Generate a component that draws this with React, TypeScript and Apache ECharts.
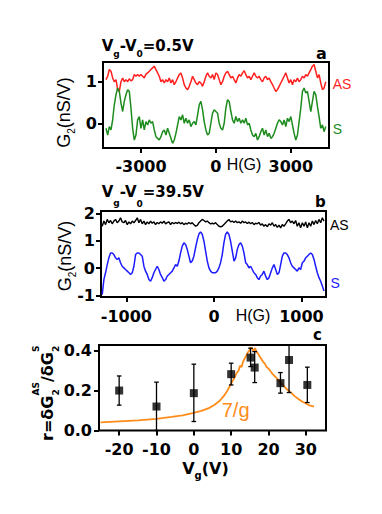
import React, { useEffect, useRef } from 'react';
import * as echarts from 'echarts';

// ---------- Panel a: Vg-V0 = 0.5 V ----------
const fieldA = [-4400,-4333,-4267,-4200,-4133,-4067,-4000,-3933,-3867,-3800,-3733,-3667,-3600,-3533,-3467,-3400,-3333,-3267,-3200,-3133,-3067,-3000,-2933,-2867,-2800,-2733,-2667,-2600,-2533,-2467,-2400,-2333,-2267,-2200,-2133,-2067,-2000,-1933,-1867,-1800,-1733,-1667,-1600,-1533,-1467,-1400,-1333,-1267,-1200,-1133,-1067,-1000,-933,-867,-800,-733,-667,-600,-533,-467,-400,-333,-267,-200,-133,-67,0,67,133,200,267,333,400,467,533,600,667,733,800,867,933,1000,1067,1133,1200,1267,1333,1400,1467,1533,1600,1667,1733,1800,1867,1933,2000,2067,2133,2200,2267,2333,2400,2467,2533,2600,2667,2733,2800,2867,2933,3000,3067,3133,3200,3267,3333,3400,3467,3533,3600,3667,3733,3800,3867,3933,4000,4067,4133,4200,4267,4333,4400];
const asA = [1.05,1.13,1.29,1.25,1.09,1.0,1.05,0.81,0.77,1.0,
  1.09,1.0,1.05,1.0,1.07,1.02,1.05,1.17,1.13,1.17,
  1.13,1.17,1.13,1.09,1.18,1.21,1.25,1.29,1.33,1.37,
  1.29,1.21,1.13,1.0,1.05,0.97,1.05,1.0,1.09,0.97,
  1.05,0.93,1.0,1.09,1.17,1.21,1.09,0.93,0.85,0.81,
  0.89,1.0,1.13,1.05,0.97,0.93,1.0,0.97,0.89,1.0,
  1.13,1.21,1.13,1.09,1.17,1.05,1.21,1.17,1.05,0.93,
  1.0,1.13,1.21,1.25,1.17,1.09,1.13,1.05,0.97,1.09,
  1.17,1.13,1.21,1.26,1.17,1.09,1.13,1.05,1.13,1.21,
  1.13,1.09,1.13,1.05,1.0,1.09,1.13,1.05,1.09,1.0,
  0.93,0.85,0.77,0.81,0.89,0.97,1.05,1.13,1.21,1.09,
  0.97,1.05,0.93,1.05,1.0,1.09,1.0,1.05,1.13,1.09,
  1.17,1.13,1.21,1.29,1.37,1.41,1.25,1.09,1.17,0.97,
  0.81,0.85,1.0];
const sA = [-0.11,-0.27,-0.07,-0.15,0.09,0.45,0.69,0.85,0.77,0.49,
  0.29,0.53,0.69,0.81,0.77,0.37,-0.11,-0.39,-0.27,0.09,
  0.17,-0.11,0.09,-0.15,0.05,-0.03,0.09,0.01,0.05,-0.15,
  -0.31,-0.35,-0.39,-0.31,-0.19,-0.15,-0.27,-0.11,-0.23,-0.35,
  -0.47,-0.39,-0.23,-0.03,0.17,0.09,0.21,0.01,0.13,0.01,
  0.09,-0.07,0.01,0.05,-0.03,0.21,0.45,0.53,0.33,0.05,
  -0.15,-0.27,-0.23,0.01,0.25,0.33,0.29,0.25,0.01,-0.11,
  -0.15,0.01,0.37,0.57,0.53,0.29,0.09,0.01,0.17,0.05,
  0.13,0.01,0.09,0.01,0.13,-0.03,0.01,-0.15,-0.27,-0.31,
  -0.23,-0.39,-0.31,-0.19,-0.11,-0.27,-0.15,-0.31,-0.23,-0.35,
  -0.31,-0.23,-0.11,0.01,0.09,0.05,-0.03,0.09,-0.07,0.13,
  0.05,0.17,-0.03,-0.23,-0.39,-0.27,0.05,0.37,0.77,0.85,
  0.73,0.77,0.53,0.29,0.53,0.77,0.69,0.41,0.17,-0.11,
  -0.03,-0.19,-0.07];

// ---------- Panel b: Vg-V0 = 39.5 V ----------
const fieldB = [-1276,-1257,-1238,-1219,-1200,-1181,-1162,-1143,-1124,-1105,-1086,-1067,-1048,-1029,-1010,-990,-971,-952,-933,-914,-895,-876,-857,-838,-819,-800,-781,-762,-743,-724,-705,-686,-667,-648,-629,-610,-590,-571,-552,-533,-514,-495,-476,-457,-438,-419,-400,-381,-362,-343,-324,-305,-286,-267,-248,-229,-210,-190,-171,-152,-133,-114,-95,-76,-57,-38,-19,0,19,38,57,76,95,114,133,152,171,190,210,229,248,267,286,305,324,343,362,381,400,419,438,457,476,495,514,533,552,571,590,610,629,648,667,686,705,724,743,762,781,800,819,838,857,876,895,914,933,952,971,990,1010,1029,1048,1067,1086,1105,1124,1143,1162,1181,1200,1219,1238,1257];
const asB = [1.54,1.73,1.60,1.79,1.67,1.75,1.63,1.73,1.79,1.67,
  1.73,1.85,1.70,1.67,1.75,1.60,1.70,1.63,1.73,1.67,
  1.75,1.85,1.67,1.79,1.63,1.73,1.60,1.70,1.63,1.73,
  1.65,1.70,1.60,1.68,1.63,1.70,1.65,1.73,1.63,1.67,
  1.70,1.60,1.68,1.63,1.68,1.64,1.69,1.63,1.67,1.60,
  1.65,1.62,1.68,1.63,1.67,1.60,1.54,1.57,1.67,1.73,
  1.79,1.75,1.70,1.73,1.67,1.63,1.65,1.63,1.67,1.60,
  1.54,1.52,1.54,1.60,1.67,1.73,1.79,1.70,1.73,1.68,
  1.73,1.67,1.70,1.65,1.73,1.67,1.70,1.64,1.69,1.63,
  1.68,1.60,1.65,1.63,1.68,1.58,1.63,1.54,1.60,1.52,
  1.63,1.58,1.67,1.54,1.60,1.50,1.58,1.48,1.60,1.54,
  1.63,1.73,1.79,1.67,1.73,1.63,1.75,1.54,1.67,1.48,
  1.67,1.54,1.70,1.48,1.67,1.54,1.73,1.60,1.75,1.63,
  1.79,1.67,1.85,1.73];
const sB = [-0.97,-0.42,-0.17,0.13,0.38,0.56,0.56,0.50,0.38,0.32,
  0.38,0.20,0.07,0.01,-0.05,-0.11,-0.17,-0.23,-0.17,0.07,
  0.50,0.56,0.56,0.50,0.44,0.07,-0.11,-0.23,-0.42,-0.48,
  -0.35,-0.17,-0.05,0.07,-0.05,-0.23,-0.35,-0.48,-0.42,-0.29,
  -0.23,-0.17,-0.11,0.01,0.13,0.07,0.26,0.56,0.81,0.93,
  0.87,0.69,0.44,0.20,0.26,0.44,0.75,1.05,1.26,1.33,
  1.24,0.99,0.62,0.26,0.01,-0.11,-0.17,-0.17,-0.17,-0.11,
  0.01,0.20,0.50,0.93,1.24,1.33,1.24,0.99,0.62,0.26,
  0.38,0.69,0.87,0.93,0.81,0.56,0.20,0.13,0.01,0.07,
  -0.05,-0.17,-0.23,-0.35,-0.42,-0.29,-0.23,-0.11,-0.29,-0.42,
  -0.35,-0.17,0.01,0.13,-0.05,-0.23,-0.17,0.13,0.44,0.56,
  0.56,0.50,0.38,0.20,0.07,0.01,-0.05,-0.11,0.01,-0.05,
  0.20,0.26,0.38,0.44,0.50,0.56,0.50,0.32,0.07,-0.17,
  -0.35,-0.48,-0.66,-0.84];

// ---------- Panel c: r vs Vg ----------
const vg = [-20, -10, 0, 10, 15.2, 16.3, 23.2, 25.5, 30.4];
const rVal = [0.20, 0.12, 0.187, 0.282, 0.365, 0.315, 0.237, 0.353, 0.228];
const rLow = [0.127, 0.0, 0.045, 0.228, 0.32, 0.24, 0.187, 0.19, 0.14];
const rHigh = [0.273, 0.242, 0.332, 0.337, 0.412, 0.395, 0.29, 0.427, 0.317];
const fitVg = [-25,-20,-15,-10,-6,-3,0,2,4,5.5,7,8,9,10,10.8,11.4,12,12.4,12.8,13.2,13.6,14,14.4,14.8,15.2,15.6,16,16.4,16.8,17.2,17.6,18,18.5,19,19.5,20,21,22,23,24,25,26,27,28,29,30,31,32.2];
const fitR = [0.041,0.046,0.051,0.058,0.068,0.076,0.088,0.098,0.112,0.128,0.15,0.172,0.2,0.235,0.262,0.285,0.3,0.325,0.318,0.345,0.36,0.372,0.39,0.398,0.415,0.41,0.398,0.412,0.395,0.385,0.372,0.36,0.345,0.335,0.318,0.31,0.285,0.266,0.245,0.225,0.205,0.19,0.172,0.158,0.145,0.135,0.126,0.12];

// ---------- Tick labels ----------
const xTicksA = [-3000, 0, 3000];
const yTicksA = [0, 1];
const xTicksB = [-1000, 0, 1000];
const yTicksB = [-1, 0, 1, 2];
const xTicksC = [-20, -10, 0, 10, 20, 30];
const yTicksC = [0, 0.2, 0.4];

const DV = "'DejaVu Sans'";
const LS = "'Liberation Sans'";
const CENTRAL = 0.346;

let measureCtx: CanvasRenderingContext2D | null = null;
function tw(text: string, size: number, weight: string, family: string): number {
  if (!measureCtx) measureCtx = document.createElement('canvas').getContext('2d');
  if (!measureCtx) return text.length * size * 0.6;
  measureCtx.font = `${weight} ${size}px ${family}`;
  return measureCtx.measureText(text).width;
}

function textEl(x: number, baseline: number, text: string, size: number, weight: string, family: string, fill: string, align = 'left') {
  return {
    type: 'text', x, y: baseline - CENTRAL * size, silent: true,
    style: { text, fontSize: size, fontWeight: weight, fontFamily: family, fill, align, verticalAlign: 'middle' },
  };
}

type Piece = { t: string; size: number; dy?: number; stack?: boolean };
function pieces(list: Piece[], weight: string, family: string, fill: string, anchor: 'left' | 'center') {
  let cursor = 0;
  let lastStart = 0;
  const placed: { x0: number; p: Piece }[] = [];
  for (const p of list) {
    const w = tw(p.t, p.size, weight, family);
    const x0 = p.stack ? lastStart : cursor;
    placed.push({ x0, p });
    if (!p.stack) lastStart = x0;
    cursor = Math.max(cursor, x0 + w);
  }
  const shift = anchor === 'center' ? -cursor / 2 : 0;
  return placed.map(({ x0, p }) => textEl(x0 + shift, p.dy || 0, p.t, p.size, weight, family, fill));
}

function axisX(gridIndex: number, min: number, max: number, ticks: number[], margin: number) {
  return {
    type: 'value', gridIndex, min, max,
    splitLine: { show: false },
    axisLine: { show: false, onZero: false },
    axisTick: { show: true, inside: false, length: 5, lineStyle: { color: '#000', width: 2 }, customValues: ticks },
    axisLabel: { show: true, customValues: ticks, margin, color: '#000', fontFamily: DV, fontWeight: 'bold', fontSize: 16, formatter: (v: number) => String(v) },
  };
}
function axisY(gridIndex: number, min: number, max: number, ticks: number[], margin: number, fmt: (v: number) => string) {
  return {
    type: 'value', gridIndex, min, max,
    splitLine: { show: false },
    axisLine: { show: false, onZero: false },
    axisTick: { show: true, inside: false, length: 5, lineStyle: { color: '#000', width: 2 }, customValues: ticks },
    axisLabel: { show: true, customValues: ticks, margin, color: '#000', fontFamily: DV, fontWeight: 'bold', fontSize: 16, formatter: fmt },
  };
}

function zip(xs: number[], ys: number[]) {
  return xs.map((x, i) => [x, ys[i]]);
}

export default function App() {
  const ref = useRef<HTMLDivElement>(null);
  useEffect(() => {
    if (!ref.current) return;
    const chart = echarts.init(ref.current, null, { renderer: 'svg' });
    const gridStyle = { show: true, borderColor: '#000', borderWidth: 2, backgroundColor: 'transparent', containLabel: false };

    const graphics: any[] = [
      // titles
      { type: 'group', x: 101.7, y: 51, children: pieces([
        { t: 'V', size: 15 }, { t: 'g', size: 9, dy: 6.5 }, { t: '-V', size: 15 }, { t: '0', size: 9, dy: 6 }, { t: '=0.5V', size: 15 },
      ], 'bold', DV, '#000', 'left') },
      { type: 'group', x: 101.7, y: 197.5, children: pieces([
        { t: 'V', size: 15 }, { t: 'g', size: 9, dy: 8.5 }, { t: '-V', size: 15 }, { t: '0', size: 9, dy: 9.5 }, { t: '=39.5V', size: 15 },
      ], 'bold', DV, '#000', 'left') },
      // panel letters
      textEl(316, 59.3, 'a', 16, 'bold', DV, '#000'),
      textEl(315, 207.3, 'b', 15, 'bold', DV, '#000'),
      textEl(313, 340, 'c', 15, 'bold', DV, '#000'),
      // trace labels
      textEl(332.7, 89.3, 'AS', 14, 'normal', LS, '#ff1f1f'),
      textEl(332.7, 134, 'S', 14, 'normal', LS, '#1e8c1e'),
      textEl(330, 230, 'AS', 14, 'normal', LS, '#000'),
      textEl(330.5, 288.3, 'S', 14, 'normal', LS, '#1c1cff'),
      // H(G)
      textEl(226.7, 170, 'H(G)', 16, 'normal', LS, '#000'),
      textEl(235.7, 321, 'H(G)', 16, 'normal', LS, '#000'),
      // 7/g
      textEl(221.7, 417.3, '7/g', 20, 'normal', LS, '#ff8c1a'),
      // y labels
      { type: 'group', x: 70, y: 112.5, rotation: Math.PI / 2, children: pieces([
        { t: 'G', size: 18 }, { t: '2', size: 10, dy: 5 }, { t: '(nS/V)', size: 18 },
      ], 'normal', LS, '#000', 'center') },
      { type: 'group', x: 71, y: 256, rotation: Math.PI / 2, children: pieces([
        { t: 'G', size: 18 }, { t: '2', size: 10, dy: 5 }, { t: '(nS/V)', size: 18 },
      ], 'normal', LS, '#000', 'center') },
      { type: 'group', x: 53.3, y: 393.3, rotation: Math.PI / 2, children: pieces([
        { t: 'r=δG', size: 16 }, { t: '2', size: 9, dy: 5.5 }, { t: 'AS', size: 9, dy: -14, stack: true },
        { t: '/δG', size: 16 }, { t: '2', size: 9, dy: 5.5 }, { t: 'S', size: 9, dy: -14, stack: true },
      ], 'bold', DV, '#000', 'center') },
      // x label panel c
      { type: 'group', x: 205.5, y: 474.3, children: pieces([
        { t: 'V', size: 16 }, { t: 'g', size: 10, dy: 4.5 }, { t: '(V)', size: 16 },
      ], 'bold', DV, '#000', 'center') },
    ];

    const option: any = {
      animation: false,
      backgroundColor: '#fff',
      grid: [
        { ...gridStyle, left: 103, top: 62, width: 226, height: 86 },
        { ...gridStyle, left: 101, top: 211, width: 225, height: 86 },
        { ...gridStyle, left: 99, top: 345, width: 227, height: 85.5 },
      ],
      xAxis: [
        axisX(0, -4520, 4530, xTicksA, 10),
        axisX(1, -1290, 1280, xTicksB, 11),
        axisX(2, -25.4, 35.4, xTicksC, 11),
      ],
      yAxis: [
        axisY(0, -0.58, 1.47, yTicksA, 6, (v) => String(v)),
        axisY(1, -1.06, 2.1, yTicksB, 6, (v) => String(v)),
        axisY(2, 0, 0.428, yTicksC, 7, (v) => v.toFixed(1)),
      ],
      series: [
        { type: 'line', xAxisIndex: 0, yAxisIndex: 0, data: zip(fieldA, asA), symbol: 'none', lineStyle: { color: '#ff1f1f', width: 1.5 }, itemStyle: { color: '#ff1f1f' } },
        { type: 'line', xAxisIndex: 0, yAxisIndex: 0, data: zip(fieldA, sA), symbol: 'none', lineStyle: { color: '#1e8c1e', width: 1.5 }, itemStyle: { color: '#1e8c1e' } },
        { type: 'line', xAxisIndex: 1, yAxisIndex: 1, data: zip(fieldB, asB), symbol: 'none', lineStyle: { color: '#000', width: 1.4 }, itemStyle: { color: '#000' } },
        { type: 'line', xAxisIndex: 1, yAxisIndex: 1, data: zip(fieldB, sB), symbol: 'none', lineStyle: { color: '#1c1cff', width: 1.5 }, itemStyle: { color: '#1c1cff' } },
        { type: 'line', xAxisIndex: 2, yAxisIndex: 2, data: zip(fitVg, fitR), symbol: 'none', lineStyle: { color: '#ff8c1a', width: 1.8 }, itemStyle: { color: '#ff8c1a' } },
        {
          type: 'custom', xAxisIndex: 2, yAxisIndex: 2, z: 4,
          data: vg.map((v, i) => [v, rLow[i], rHigh[i]]),
          renderItem: (_params: any, api: any) => {
            const lo = api.coord([api.value(0), api.value(1)]);
            const hi = api.coord([api.value(0), api.value(2)]);
            const cw = 2.3;
            const style = { stroke: '#000', lineWidth: 1.3 };
            return {
              type: 'group',
              children: [
                { type: 'line', shape: { x1: lo[0], y1: lo[1], x2: hi[0], y2: hi[1] }, style },
                { type: 'line', shape: { x1: lo[0] - cw, y1: lo[1], x2: lo[0] + cw, y2: lo[1] }, style },
                { type: 'line', shape: { x1: hi[0] - cw, y1: hi[1], x2: hi[0] + cw, y2: hi[1] }, style },
              ],
            };
          },
        },
        { type: 'scatter', xAxisIndex: 2, yAxisIndex: 2, z: 5, symbol: 'rect', symbolSize: 8, data: zip(vg, rVal), itemStyle: { color: '#000' } },
      ],
      graphic: { elements: graphics },
    };
    chart.setOption(option);
    return () => chart.dispose();
  }, []);
  return <div ref={ref} style={{ position: 'fixed', left: 0, top: 0, width: 382, height: 514, background: '#fff' }} />;
}
